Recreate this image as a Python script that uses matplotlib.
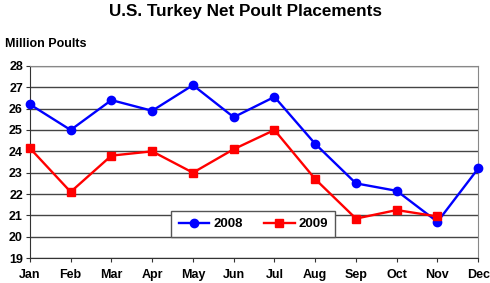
import matplotlib
matplotlib.use("Agg")
import matplotlib.pyplot as plt

plt.rcParams['font.family'] = ['Liberation Sans', 'DejaVu Sans']

# Data
months = ["Jan", "Feb", "Mar", "Apr", "May", "Jun", "Jul", "Aug", "Sep", "Oct", "Nov", "Dec"]
y2008 = [26.2, 25.0, 26.4, 25.9, 27.1, 25.6, 26.55, 24.35, 22.5, 22.15, 20.7, 23.2]
y2009 = [24.15, 22.1, 23.8, 24.0, 23.0, 24.1, 25.0, 22.7, 20.85, 21.25, 20.95]

fig = plt.figure(figsize=(4.9, 2.83), dpi=100)
ax = fig.add_axes([0.061, 0.088, 0.915, 0.679])

ax.plot(range(len(y2008)), y2008, color="#0000ff", marker="o", markersize=6, lw=1.7, label="2008", clip_on=False, zorder=3)
ax.plot(range(len(y2009)), y2009, color="#ff0000", marker="s", markersize=6, lw=1.7, label="2009", clip_on=False, zorder=3)

ax.set_xlim(0, 11)
ax.set_ylim(19, 28)
ax.set_yticks(range(19, 29))
ax.set_xticks(range(12))
ax.set_xticklabels(months)
ax.yaxis.grid(True, color="#444444", lw=1)
ax.set_axisbelow(True)
ax.tick_params(axis="both", labelsize=9, length=3, color="#333333")
ax.tick_params(axis="x", pad=5)
ax.tick_params(axis="y", pad=2)
for lab in ax.get_xticklabels() + ax.get_yticklabels():
    lab.set_fontweight("bold")
for s in ["top", "right"]:
    ax.spines[s].set_color("#888888")
for s in ["left", "bottom"]:
    ax.spines[s].set_color("#333333")

leg = ax.legend(ncol=2, loc="lower left", bbox_to_anchor=(0.301, 0.073, 0.395, 0.151),
                mode="expand", fancybox=False, shadow=False, framealpha=1,
                edgecolor="#555555", prop={"weight": "bold", "size": 9.5},
                handlelength=2.3, borderpad=0.55, handletextpad=0.3)
leg.get_frame().set_linewidth(1)

fig.text(0.5, 0.985, "U.S. Turkey Net Poult Placements", ha="center", va="top",
         fontsize=12.3, fontweight="bold")
fig.text(0.01, 0.825, "Million Poults", ha="left", va="bottom", fontsize=9, fontweight="bold")

fig.savefig("out.png", dpi=100)
